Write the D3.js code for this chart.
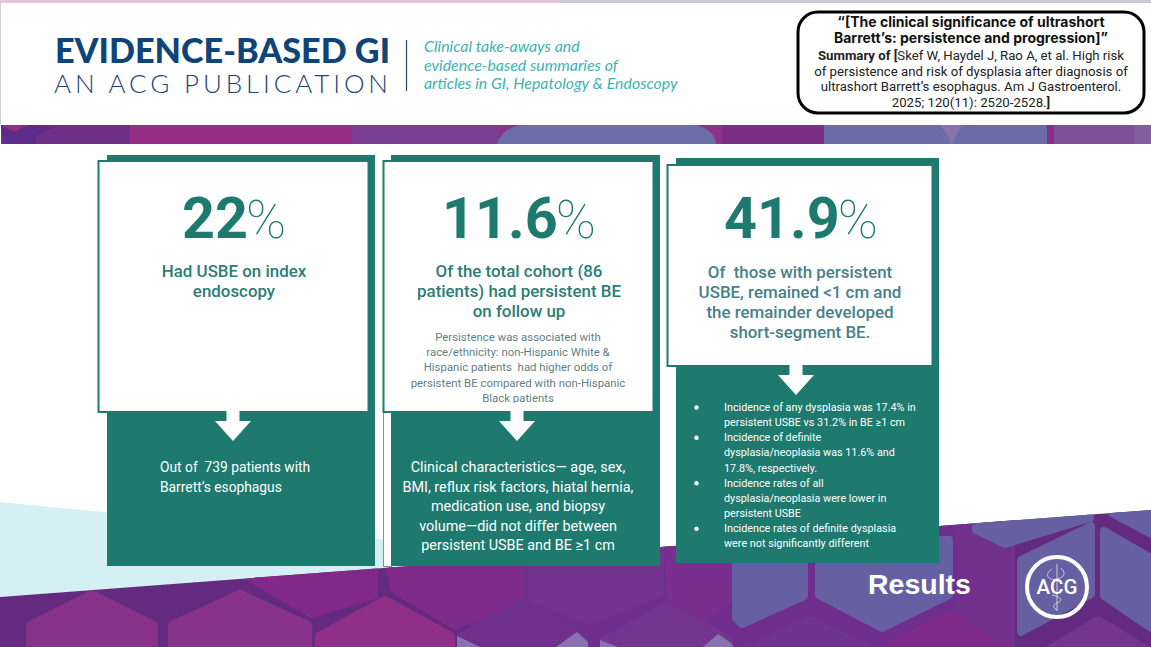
<!DOCTYPE html>
<html>
<head>
<meta charset="utf-8">
<script src="https://cdn.jsdelivr.net/npm/d3@7"></script>
<style>
	html, body { margin: 0; padding: 0; background: #fff; overflow: hidden; }
	svg { display: block; }
	text { font-family: Roboto, sans-serif; white-space: pre; }
</style>
</head>
<body>
<div id="holder"></div>
<script>
// slide values
const brandLines = ['EVIDENCE-BASED GI', 'AN ACG PUBLICATION']
const taglineLines = ['Clinical take-aways and', 'evidence-based summaries of', 'articles in GI, Hepatology & Endoscopy']
const titleLines = ['“[The clinical significance of ultrashort', 'Barrett’s: persistence and progression]”']
const citationLead = 'Summary of ['
const citationLines = ['Skef W, Haydel J, Rao A, et al. High risk', 'of persistence and risk of dysplasia after diagnosis of', 'ultrashort Barrett’s esophagus. Am J Gastroenterol.', '2025; 120(11): 2520-2528.']
const percentValues = ['22', '11.6', '41.9']
const headingLines = [
	['Had USBE on index', 'endoscopy'],
	['Of the total cohort (86', 'patients) had persistent BE', 'on follow up'],
	['Of  those with persistent', 'USBE, remained <1 cm and', 'the remainder developed', 'short-segment BE.']
]
const noteLines = ['Persistence was associated with', 'race/ethnicity: non-Hispanic White &', 'Hispanic patients  had higher odds of', 'persistent BE compared with non-Hispanic', 'Black patients']
const patientLines = ['Out of  739 patients with', 'Barrett’s esophagus']
const clinicalLines = ['Clinical characteristics— age, sex,', 'BMI, reflux risk factors, hiatal hernia,', 'medication use, and biopsy', 'volume—did not differ between', 'persistent USBE and BE ≥1 cm']
const bulletLines = [
	['Incidence of any dysplasia was 17.4% in', 'persistent USBE vs 31.2% in BE ≥1 cm'],
	['Incidence of definite', 'dysplasia/neoplasia was 11.6% and', '17.8%, respectively.'],
	['Incidence rates of all', 'dysplasia/neoplasia were lower in', 'persistent USBE'],
	['Incidence rates of definite dysplasia', 'were not significantly different']
]
const footerLabel = 'Results'
const logoLabel = 'ACG'

const teal = '#1e7a6e'

const svg = d3.select('#holder').append('svg')
	.attr('width', 1151)
	.attr('height', 647)

const defs = svg.append('defs')
defs.append('clipPath').attr('id', 'bottomClip')
	.append('polygon').attr('points', '0,597 1151,510 1151,647 0,647')
defs.append('clipPath').attr('id', 'bandClip')
	.append('rect').attr('x', 1).attr('y', 125).attr('width', 1150).attr('height', 19)
defs.append('clipPath').attr('id', 'noteClip')
	.append('rect').attr('x', 385).attr('y', 325).attr('width', 265).attr('height', 78)

// --------------------------------------------------------
// helpers
function addLines(parent, lines, opts) {
	parent.append('g')
		.selectAll('text')
		.data(lines)
		.join('text')
		.attr('x', opts.x)
		.attr('y', (d, i) => opts.ys ? opts.ys[i] : opts.y + i * opts.step)
		.attr('text-anchor', opts.anchor || 'middle')
		.attr('fill', opts.fill)
		.attr('font-size', opts.size)
		.attr('font-weight', opts.weight || 400)
		.style('font-family', opts.family || null)
		.style('font-style', opts.italic ? 'italic' : null)
		.text(d => d)
}

// rounded cell: the wide stroke with round joins softens the corners
function cell(parent, pts, fill) {
	parent.append('polygon')
		.attr('points', pts.map(p => p.join(',')).join(' '))
		.attr('fill', fill)
		.attr('stroke', fill)
		.attr('stroke-width', 8)
		.attr('stroke-linejoin', 'round')
}

function hex(cx, peak, shoulder, bottom, half) {
	return [[cx, peak], [cx + half, shoulder], [cx + half, bottom], [cx, bottom + shoulder - peak], [cx - half, bottom], [cx - half, shoulder]]
}

// --------------------------------------------------------
// top strip and left hairline
svg.append('rect').attr('x', 0).attr('y', 0).attr('width', 560).attr('height', 3).attr('fill', '#e6c6d6')
svg.append('rect').attr('x', 560).attr('y', 0).attr('width', 591).attr('height', 3).attr('fill', '#cdc8da')
svg.append('rect').attr('x', 0).attr('y', 3).attr('width', 1).attr('height', 122).attr('fill', '#cfcfcf')

// header band
const band = svg.append('g').attr('clip-path', 'url(#bandClip)')
const bandSegments = [
	[0, 130, '#6e2f88'], [130, 352, '#962d85'], [352, 500, '#7a3f90'], [500, 722, '#8c3389'],
	[722, 824, '#7c2f85'], [824, 1047, '#6c6ca8'], [1047, 1054, '#882d88'], [1054, 1135, '#7e5098'], [1135, 1151, '#8260a2']
]
band.selectAll('rect').data(bandSegments).join('rect')
	.attr('x', d => d[0]).attr('y', 125).attr('width', d => d[1] - d[0]).attr('height', 19).attr('fill', d => d[2])
band.append('path').attr('d', 'M0,125 L5,144 L36,144 L36,136 L60,125 Z').attr('fill', '#5e2a8c')
band.append('path').attr('d', 'M0,125 L28,125 L14,132 Z').attr('fill', '#962d85')
band.append('path').attr('d', 'M497,144 C500,134 510,125 525,125 L695,125 C708,127 716,136 716,144 Z').attr('fill', '#6b6ea8')
band.append('path').attr('d', 'M940,125 L962,125 C958,132 954,138 953,144 L950,144 C949,136 945,131 940,125 Z').attr('fill', '#8a72aa')

// --------------------------------------------------------
// bottom artwork
svg.append('polygon').attr('points', '0,502 400,541 400,568 0,597').attr('fill', '#d4f0f4')

const art = svg.append('g').attr('clip-path', 'url(#bottomClip)')
art.append('rect').attr('x', 0).attr('y', 500).attr('width', 1151).attr('height', 147).attr('fill', '#642a80')
// the gaps are much fainter across the middle of the artwork
art.append('rect').attr('x', 470).attr('y', 500).attr('width', 485).attr('height', 147).attr('fill', '#6f2e8e')
// upper row of cells
cell(art, [[250, 540], [374, 540], [374, 595], [312, 614], [250, 578]], '#82288a')
cell(art, [[382, 540], [520, 540], [520, 596], [455, 626], [395, 590]], '#7e2a8a')
cell(art, [[532, 540], [660, 540], [660, 592], [590, 620], [532, 598]], '#743390')
cell(art, [[668, 540], [728, 540], [728, 600], [692, 624], [672, 605]], '#7a2f8e')
cell(art, [[736, 540], [804, 540], [804, 596], [742, 624], [736, 618]], '#6660a2')
cell(art, [[819, 540], [949, 540], [949, 595], [882, 628], [819, 595]], '#6660a2')
art.append('rect').attr('x', 955).attr('y', 500).attr('width', 60).attr('height', 147).attr('fill', '#70308c')
cell(art, [[976, 500], [1090, 500], [1090, 518], [1005, 544], [976, 530]], '#6660a2')
cell(art, [[1021, 560], [1091, 526], [1091, 594], [1021, 632]], '#6660a2')
cell(art, [[1104, 531], [1151, 558], [1151, 628], [1104, 596]], '#6660a2')
cell(art, [[1112, 505], [1151, 505], [1151, 534], [1112, 513]], '#6660a2')
// lower row of cells
cell(art, hex(92, 594, 625, 700, 62), '#88338a')
cell(art, hex(240, 594, 625, 700, 68), '#88338a')
cell(art, hex(385, 600, 636, 700, 66), '#8f2f88')
cell(art, hex(523, 602, 636, 700, 62), '#6f2f8c')
cell(art, hex(667, 606, 640, 700, 62), '#723590')
cell(art, hex(810, 620, 650, 700, 62), '#6f3490')
cell(art, hex(947, 614, 650, 700, 62), '#7e2a88')
cell(art, hex(1098, 620, 660, 700, 66), '#74358e')
// lavender chips along the bottom edge
const chips = [
	[[457, 636], [480, 647], [457, 647]],
	[[577, 632], [588, 642], [588, 647], [556, 647]],
	[[600, 640], [618, 647], [600, 647]],
	[[718, 634], [730, 642], [734, 647], [703, 647]]
]
art.selectAll('polygon.chip').data(chips).join('polygon')
	.attr('class', 'chip')
	.attr('points', d => d.map(p => p.join(',')).join(' '))
	.attr('fill', '#8a72b0')

// --------------------------------------------------------
// brand block
svg.append('text').attr('x', 55).attr('y', 62.5)
	.attr('textLength', 335).attr('lengthAdjust', 'spacingAndGlyphs')
	.style('font-family', 'Lato').attr('font-weight', 900).attr('font-size', 34)
	.attr('fill', '#0f4478').text(brandLines[0])
svg.append('text').attr('x', 54).attr('y', 92.5)
	.attr('textLength', 334).attr('lengthAdjust', 'spacing')
	.style('font-family', 'Lato').attr('font-weight', 300).attr('font-size', 26)
	.attr('fill', '#1d4477').text(brandLines[1])
svg.append('line').attr('x1', 406.5).attr('x2', 406.5).attr('y1', 40).attr('y2', 91)
	.attr('stroke', '#1d4477').attr('stroke-width', 1.2)
addLines(svg, taglineLines, { x: 424, y: 52, step: 18.7, anchor: 'start', fill: '#3bb4b4', size: 15.9, family: 'Lato', italic: true })

// citation box
svg.append('rect').attr('x', 798).attr('y', 12).attr('width', 346).attr('height', 101).attr('rx', 20)
	.attr('fill', '#fff').attr('stroke', '#000').attr('stroke-width', 3)
addLines(svg, titleLines, { x: 971, y: 27, step: 16.3, fill: '#111', size: 14, weight: 700, family: 'Inter' })
const lead = svg.append('text').attr('x', 971).attr('y', 60).attr('text-anchor', 'middle')
	.attr('font-size', 13.2).attr('fill', '#222')
lead.append('tspan').attr('font-weight', 700).text(citationLead)
lead.append('tspan').text(citationLines[0])
const citationRest = svg.append('g')
citationLines.slice(1).forEach((line, i) => {
	const t = citationRest.append('text').attr('x', 971).attr('y', 75.5 + i * 15.7)
		.attr('text-anchor', 'middle').attr('font-size', 13.2).attr('fill', '#222')
	t.append('tspan').text(line)
	if (i === citationLines.length - 2) t.append('tspan').attr('font-weight', 700).text(']')
})

// --------------------------------------------------------
// the three cards
const cardLayout = [
	{ backX: 107, backY: 155, backW: 268, backH: 411, frontX: 98.5, frontY: 161, frontW: 270, frontH: 251, mid: 233, textMid: 234, pctY: 238, pctX: 182 },
	{ backX: 391, backY: 155, backW: 269, backH: 411, frontX: 383.5, frontY: 161, frontW: 270, frontH: 251, mid: 517, textMid: 519, pctY: 238, pctX: 442 },
	{ backX: 676, backY: 158, backW: 263, backH: 405, frontX: 667.5, frontY: 165, frontW: 265, frontH: 201, mid: 796, textMid: 800, pctY: 238, pctX: 724 }
]
const headingFill = ['#2b7d76', '#2b7d76', '#47808a']
const headingYs = [[277, 297], [277, 297, 317], [278, 298, 318, 338]]

// white strip with hairline beside the second card
svg.append('rect').attr('x', 383.5).attr('y', 412).attr('width', 8).attr('height', 154.5)
	.attr('fill', '#fff').attr('stroke', '#8a8f8f').attr('stroke-width', 1)

cardLayout.forEach((c, i) => {
	const g = svg.append('g')
	g.append('rect').attr('x', c.backX).attr('y', c.backY).attr('width', c.backW).attr('height', c.backH).attr('fill', teal)
	g.append('rect').attr('x', c.frontX).attr('y', c.frontY).attr('width', c.frontW).attr('height', c.frontH)
		.attr('fill', '#fff').attr('stroke', teal).attr('stroke-width', 2)

	const bottom = c.frontY + c.frontH
	g.append('polygon')
		.attr('points', [
			[c.mid - 6.5, bottom - 1], [c.mid + 6.5, bottom - 1], [c.mid + 6.5, bottom + 9], [c.mid + 18, bottom + 9],
			[c.mid, bottom + 29], [c.mid - 18, bottom + 9], [c.mid - 6.5, bottom + 9]
		].map(p => p.join(',')).join(' '))
		.attr('fill', '#fff')

	const pct = g.append('text').attr('x', c.pctX).attr('y', c.pctY).attr('fill', teal)
	pct.append('tspan').attr('font-size', 57.5).attr('font-weight', 700).text(percentValues[i])
	pct.append('tspan').attr('font-size', 54).attr('font-weight', 100).attr('dx', -2).text('%')

	addLines(g, headingLines[i], { x: c.textMid, ys: headingYs[i], fill: headingFill[i], size: 16.9, weight: 500 })
})

// small note in the middle card, cut off by the box
const noteGroup = svg.append('g').attr('clip-path', 'url(#noteClip)')
addLines(noteGroup, noteLines, { x: 518, y: 341, step: 15.2, fill: '#5f7f85', size: 11.4 })

addLines(svg, patientLines, { x: 160, y: 472, step: 20, anchor: 'start', fill: '#fff', size: 13.8 })
addLines(svg, clinicalLines, { x: 518, y: 472, step: 19.6, fill: '#fff', size: 14.4 })

// bullets in the third card
const bulletGroup = svg.append('g')
let lineIndex = 0
const lineY = n => 411 + n * 15.15
bulletLines.forEach(lines => {
	bulletGroup.append('circle').attr('cx', 696.5).attr('cy', lineY(lineIndex) - 3.5).attr('r', 2.2).attr('fill', '#fff')
	addLines(bulletGroup, lines, { x: 724, y: lineY(lineIndex), step: 15.15, anchor: 'start', fill: '#fff', size: 10.8 })
	lineIndex += lines.length
})

// --------------------------------------------------------
// footer label and logo
svg.append('text').attr('x', 868).attr('y', 594)
	.style('font-family', '"Liberation Sans"').attr('font-weight', 700).attr('font-size', 28.5)
	.attr('fill', '#fff').text(footerLabel)

const logo = svg.append('g').attr('transform', 'translate(1057,587)')
logo.append('path').attr('d', 'M0,-23 L0,24').attr('stroke', '#cfc8e0').attr('stroke-width', 1).attr('fill', 'none')
logo.append('path').attr('d', 'M-5,-18 C-14,-12 -8,-6 0,-8 C8,-10 9,-14 4,-19 M-5,8 C5,10 6,14 0,16 C-5,18 -4,22 1,23')
	.attr('stroke', '#cfc8e0').attr('stroke-width', 1).attr('fill', 'none')
logo.append('circle').attr('r', 30).attr('fill', 'none').attr('stroke', '#fff').attr('stroke-width', 4)
logo.append('text').attr('y', 7).attr('text-anchor', 'middle')
	.attr('font-size', 20.5).attr('font-weight', 500).attr('fill', '#fff').text(logoLabel)
</script>
</body>
</html>
